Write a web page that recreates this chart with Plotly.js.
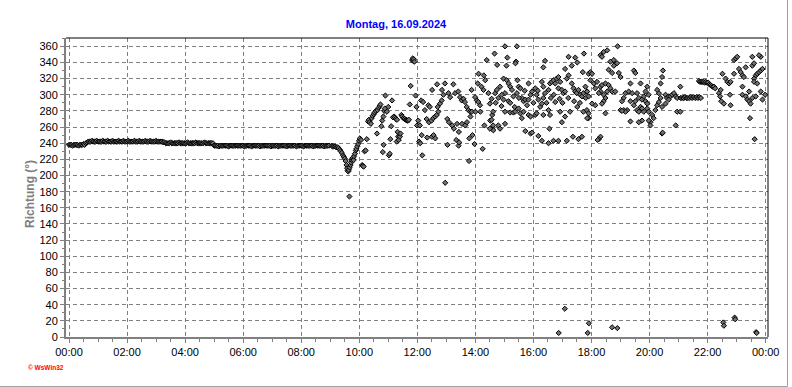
<!DOCTYPE html>
<html>
<head>
<meta charset="utf-8">
<script src="https://cdn.plot.ly/plotly-3.0.1.min.js"></script>
<style>
html,body{margin:0;padding:0;background:#fff;}
#chart{width:792px;height:387px;}
</style>
</head>
<body>
<div id="chart"></div>
<script>
// ---- data ----
const chartDate = '2024-09-16';
const chartTitle = 'Montag, 16.09.2024';
const yTitle = 'Richtung (°)';
const credit = '© WsWin32';

// night readings, every 2.5 minutes from 00:00 to 08:57 (wind direction, degrees)
const nightStepMin = 2.5;
const nightDir = [
  238,238,238,237,238,238,238,238,237,238, 238,238,239,238,240,
  241,242,242,242,243,242,242,242,243,242, 242,242,242,243,242,242,242,243,242,242,
  242,243,242,242,242,242,243,242,242,242, 243,242,242,242,243,242,242,242,242,243,
  242,242,242,243,242,242,242,242,243,242, 242,242,243,242,242,242,242,243,242,242,
  242,242,242,241,241,
  240,240,240,240,241,240,240,240,240,240, 240,241,240,240,240,240,240,240,241,240,
  240,240,240,240,240,241,240,240,240,240, 240,240,241,240,240,240,240,240,240,240,
  237,237,237,237,236,237,237,237,237,237, 237,237,236,237,237,237,237,237,237,237,
  237,237,237,237,237,236,237,237,237,237, 237,236,237,237,237,237,237,237,236,237,
  237,237,237,237,237,237,237,236,237,237, 237,237,237,236,237,237,237,237,237,237,
  236,237,237,237,237,237,237,237,236,237, 237,237,237,237,236,237,237,237,237,237,
  237,237,236,237,237,237,237,237,237,237, 237,236,237,237,237,237
];

// daytime readings: time (hour of day) and direction (degrees)
const dayHour = [
  9.05,9.08,9.12,9.17,9.2,9.25,9.29,9.33,9.36,9.4,
  9.44,9.47,9.5,9.53,9.56,9.58,9.6,9.62,9.64,9.66,
  9.67,9.7,9.72,9.74,9.76,9.78,9.8,9.82,9.85,9.88,
  9.9,9.93,9.96,9.99,10.02,10.06,10.1,10.12,10.15,10.18,
  10.22,10.26,
  10.3,10.33,10.36,10.4,10.43,10.46,10.5,10.53,10.57,10.61,
  10.63,10.67,10.7,10.73,10.76,10.79,10.81,10.83,10.84,10.86,
  10.88,10.9,10.95,11.0,11.02,11.05,11.07,11.1,11.13,11.16,
  11.2,11.23,11.26,11.29,11.3,11.32,11.34,11.36,11.38,11.4,
  11.42,11.45,11.48,11.52,11.56,11.6,11.63,11.65,11.68,11.71,
  11.74,11.77,11.82,11.84,11.86,11.88,11.9,
  11.94,11.97,11.99,12.03,12.06,12.09,12.1,12.13,12.15,12.17,
  12.2,12.26,12.32,12.34,12.38,12.4,12.43,12.49,12.5,12.51,
  12.55,12.56,12.61,12.62,12.67,12.68,12.7,12.72,12.78,12.84,
  12.85,12.9,12.95,12.96,13.03,13.04,13.07,13.09,13.13,13.2,
  13.24,13.26,13.3,13.34,13.37,13.41,13.42,13.43,13.44,13.47,
  13.53,13.54,13.59,13.64,13.65,13.7,13.71,13.76,13.78,13.79,
  13.82,13.83,13.87,13.88,13.9,13.97,13.99,14.0,14.05,14.08,
  14.1,14.11,14.16,14.17,14.21,14.25,14.28,14.29,14.31,14.34,
  14.39,14.45,14.51,14.56,14.57,14.58,14.62,14.66,
  15.02,15.43,15.1,14.75,15.07,15.4,15.38,14.68,14.74,14.85,
  14.97,15.08,15.14,15.2,15.26,15.02,14.91,14.79,14.97,15.14,
  15.31,15.43,15.49,15.45,15.55,15.6,15.66,15.72,15.78,15.83,
  15.9,15.95,15.83,16.06,16.11,16.17,16.23,16.29,16.34,16.4,
  16.29,16.34,16.52,16.57,16.63,16.69,16.75,16.8,16.86,16.92,
  16.86,16.98,17.03,17.09,17.15,17.21,17.32,17.38,17.44,17.49,
  17.55,17.61,17.67,17.72,17.84,17.9,17.7,17.51,17.74,17.44,
  17.21,17.32,17.09,16.34,16.4,
  14.5,14.61,14.56,14.5,14.61,14.79,14.85,15.02,15.02,15.2,
  15.31,15.37,15.49,15.55,15.6,15.66,15.83,15.9,16.06,16.11,
  16.34,16.52,16.57,16.75,16.92,16.98,17.09,17.26,17.51,17.72,
  17.84,17.9,
  15.72,15.9,15.95,16.17,16.29,16.52,16.69,16.86,17.15,17.36,
  17.55,17.67,16.55,
  14.7,14.9,15.2,15.35,15.5,15.7,16.0,16.15,16.45,16.6,
  16.7,16.9,17.0,17.2,17.4,17.6,17.8,
  18.9,18.31,18.42,18.54,18.36,18.65,18.77,18.82,18.88,18.77,
  18.59,18.71,18.94,19.0,19.46,19.51,17.96,18.02,17.96,18.08,
  18.19,18.13,18.31,18.36,18.48,18.59,18.65,18.71,18.82,18.54,
  18.42,18.31,18.25,18.48,18.42,18.36,18.13,18.02,17.9,17.85,
  17.79,17.9,17.85,18.48,18.31,18.25,18.21,19.34,19.69,19.17,
  19.28,19.4,19.57,19.92,19.86,19.97,19.11,19.05,19.34,19.46,
  19.51,19.63,19.74,19.8,19.86,19.92,19.69,19.57,19.63,19.74,
  19.8,19.92,19.97,20.09,20.14,20.03,19.97,19.74,19.63,19.34,
  19.23,19.11,19.0,19.17,19.05,20.03,20.43,20.45,20.2,20.26,
  20.32,20.38,20.32,20.26,20.38,20.43,20.46,20.55,20.6,20.66,
  20.72,20.78,20.84,20.9,20.95,21.06,20.55,20.43,20.66,20.95,
  21.06,20.9,21.18,
  21.07,21.12,21.17,21.22,21.27,21.32,21.37,21.42,21.47,21.52,
  21.57,21.62,21.67,21.72,21.77,
  21.7,21.74,21.78,21.82,21.86,21.9,21.94,21.98,22.02,22.06,
  22.1,22.14,22.18,22.22,22.26,
  22.39,22.45,22.43,22.47,22.56,22.79,22.77,22.51,22.62,22.68,
  22.74,22.79,22.91,22.91,22.97,23.02,23.08,23.14,23.2,23.25,
  23.2,23.2,23.31,23.37,23.43,23.48,23.43,23.31,23.54,23.54,
  23.6,23.66,23.71,23.77,23.83,23.89,23.83,23.77,23.6,23.6,
  23.71,23.54,23.66,23.83,23.89,23.98,23.46,23.62
];
const dayDir = [
  237,236,236,236,235,235,234,232,230,228,
  225,223,221,218,213,209,206,205,207,174,
  210,213,216,219,221,222,219,224,227,231,
  233,236,239,243,246,244,213,212,211,230,
  231,245,
  267,269,266,264,271,274,276,278,280,252,
  281,284,286,288,261,268,229,273,238,280,
  283,299,279,285,225,227,245,261,293,272,
  273,272,270,242,269,254,248,244,250,248,
  252,275,273,271,270,269,269,268,268,269,
  288,311,343,345,342,344,341,
  299,285,262,268,242,262,240,293,250,225,
  291,281,270,247,287,266,285,268,248,306,
  271,250,273,246,275,313,285,279,289,293,
  306,300,314,191,270,238,302,266,297,262,
  313,258,302,244,264,304,237,254,241,297,
  293,264,295,291,262,285,266,281,218,246,
  279,273,306,279,250,239,297,279,293,314,
  291,326,287,279,310,233,306,324,262,318,
  343,302,268,295,258,275,256,351,
  360,360,346,337,336,341,339,302,306,310,
  320,318,314,310,306,302,300,296,294,292,
  298,302,310,318,308,296,292,294,287,294,
  300,304,314,308,300,294,285,289,296,302,
  316,310,306,314,316,318,314,320,322,316,
  308,306,302,304,320,324,314,308,304,302,
  306,300,298,302,304,326,328,340,351,346,
  347,336,332,334,342,
  289,279,269,258,262,262,258,264,279,278,
  278,279,283,277,271,279,275,273,275,277,
  275,281,275,291,279,266,273,279,285,279,
  281,271,
  255,252,253,249,243,240,243,243,243,248,
  245,248,258,
  290,286,290,285,296,305,290,305,290,296,
  300,295,290,296,292,290,296,
  360,349,353,355,347,341,343,338,339,336,
  331,327,327,322,330,327,328,326,318,314,
  316,308,310,312,314,312,308,304,304,304,
  300,304,302,296,292,289,287,289,298,304,
  310,277,271,277,248,245,244,314,314,302,
  304,302,302,310,304,300,296,292,292,287,
  292,296,294,298,292,289,285,281,279,283,
  279,283,279,275,271,266,268,268,266,267,
  281,281,281,279,280,262,252,253,281,287,
  291,296,302,306,314,322,330,300,296,298,
  298,300,302,298,296,310,289,285,294,279,
  279,262,296,
  296,296,296,297,296,296,296,297,296,297,
  296,297,296,297,296,
  317,316,316,316,316,315,316,315,315,313,
  312,311,310,310,308,
  302,306,298,292,289,287,300,326,320,316,
  314,316,326,343,345,347,332,328,324,322,
  310,300,298,294,292,289,304,334,347,336,
  339,324,326,328,330,332,347,349,320,316,
  314,296,298,304,294,300,271,245
];

// isolated near-north readings
const lowHour = [16.87,17.08,17.87,17.91,18.71,18.89,22.54,22.56,22.93,22.95,23.67,23.69];
const lowDir  = [5,35,5,17,12,11,18,14,24,22,6,5];

// ---- build ----
function pad(n){return String(n).padStart(2,'0');}
function stamp(hours){
  const s = Math.round(hours*3600);
  const hh = Math.floor(s/3600), mm = Math.floor((s%3600)/60), ss = s%60;
  return chartDate + ' ' + pad(hh) + ':' + pad(mm) + ':' + pad(ss);
}
const xs = [], ys = [];
nightDir.forEach((v,i)=>{ xs.push(stamp(i*nightStepMin/60)); ys.push(v); });
dayHour.forEach((h,i)=>{ xs.push(stamp(h)); ys.push(dayDir[i]); });
lowHour.forEach((h,i)=>{ xs.push(stamp(h)); ys.push(lowDir[i]); });

const font = 'Liberation Sans, Arial, sans-serif';
const trace = {
  type:'scatter', mode:'markers', x: xs, y: ys,
  marker:{symbol:'diamond', size:4, color:'#707070', line:{color:'#000000', width:1}},
  hoverinfo:'skip'
};

const W=792, H=387, L=66, R=24, T=38, B=50;
const pw = W-L-R, ph = H-T-B;
function px2x(p){return (p-L)/pw;}
function py2y(p){return (H-B-p)/ph;}

const layout = {
  width:W, height:H,
  margin:{l:L, r:R, t:T, b:B, pad:0},
  paper_bgcolor:'#ffffff', plot_bgcolor:'#ffffff',
  showlegend:false, hovermode:false,
  title:{text:chartTitle, font:{family:font, size:11, color:'#0000ff', weight:'bold'},
         x:0.5, xref:'container', xanchor:'center', y:1-24/H, yref:'container', yanchor:'middle'},
  xaxis:{
    type:'date',
    range:['2024-09-15 23:53:48','2024-09-17 00:04:48'],
    tick0:'2024-09-16 00:00:00', dtick:7200000, tickformat:'%H:%M',
    ticks:'outside', ticklen:4, tickwidth:1, tickcolor:'#808080',
    tickfont:{family:font, size:11, color:'#000000'},
    showgrid:true, gridcolor:'#808080', gridwidth:1, griddash:'4px,3px',
    showline:true, linecolor:'#808080', linewidth:2,
    zeroline:false, fixedrange:true,
    minor:{dtick:1800000, ticks:'outside', ticklen:3, tickcolor:'#808080', showgrid:false}
  },
  yaxis:{
    range:[0,370.3], tick0:0, dtick:20,
    ticks:'outside', ticklen:4, tickwidth:1, tickcolor:'#808080',
    tickfont:{family:font, size:11, color:'#000000'},
    showgrid:true, gridcolor:'#808080', gridwidth:1, griddash:'4px,3px',
    showline:true, linecolor:'#808080', linewidth:2,
    zeroline:false, fixedrange:true,
    minor:{dtick:10, ticks:'outside', ticklen:2, tickcolor:'#808080', showgrid:false}
  },
  shapes:[
    {type:'line', xref:'paper', yref:'paper', x0:0, x1:1, y0:1, y1:1, line:{color:'#000000', width:1}},
    {type:'line', xref:'paper', yref:'paper', x0:1, x1:1, y0:0, y1:1, line:{color:'#000000', width:1}},
    {type:'line', xref:'paper', yref:'paper', x0:px2x(787.5), x1:px2x(787.5), y0:py2y(0), y1:py2y(386.5), line:{color:'#a0a0a0', width:1}},
    {type:'line', xref:'paper', yref:'paper', x0:px2x(0), x1:px2x(787.5), y0:py2y(386.5), y1:py2y(386.5), line:{color:'#a0a0a0', width:1}}
  ],
  annotations:[
    {text:yTitle, textangle:-90, xref:'paper', yref:'paper', x:px2x(30), y:py2y(194),
     xanchor:'center', yanchor:'middle', showarrow:false,
     font:{family:font, size:12, color:'#808080', weight:'bold'}},
    {text:credit, xref:'paper', yref:'paper', x:px2x(26), y:py2y(367.5),
     xanchor:'left', yanchor:'middle', showarrow:false,
     font:{family:font, size:6.5, color:'#ff0000', weight:'bold'}}
  ]
};

Plotly.newPlot('chart', [trace], layout, {staticPlot:true, displayModeBar:false});
</script>
</body>
</html>
